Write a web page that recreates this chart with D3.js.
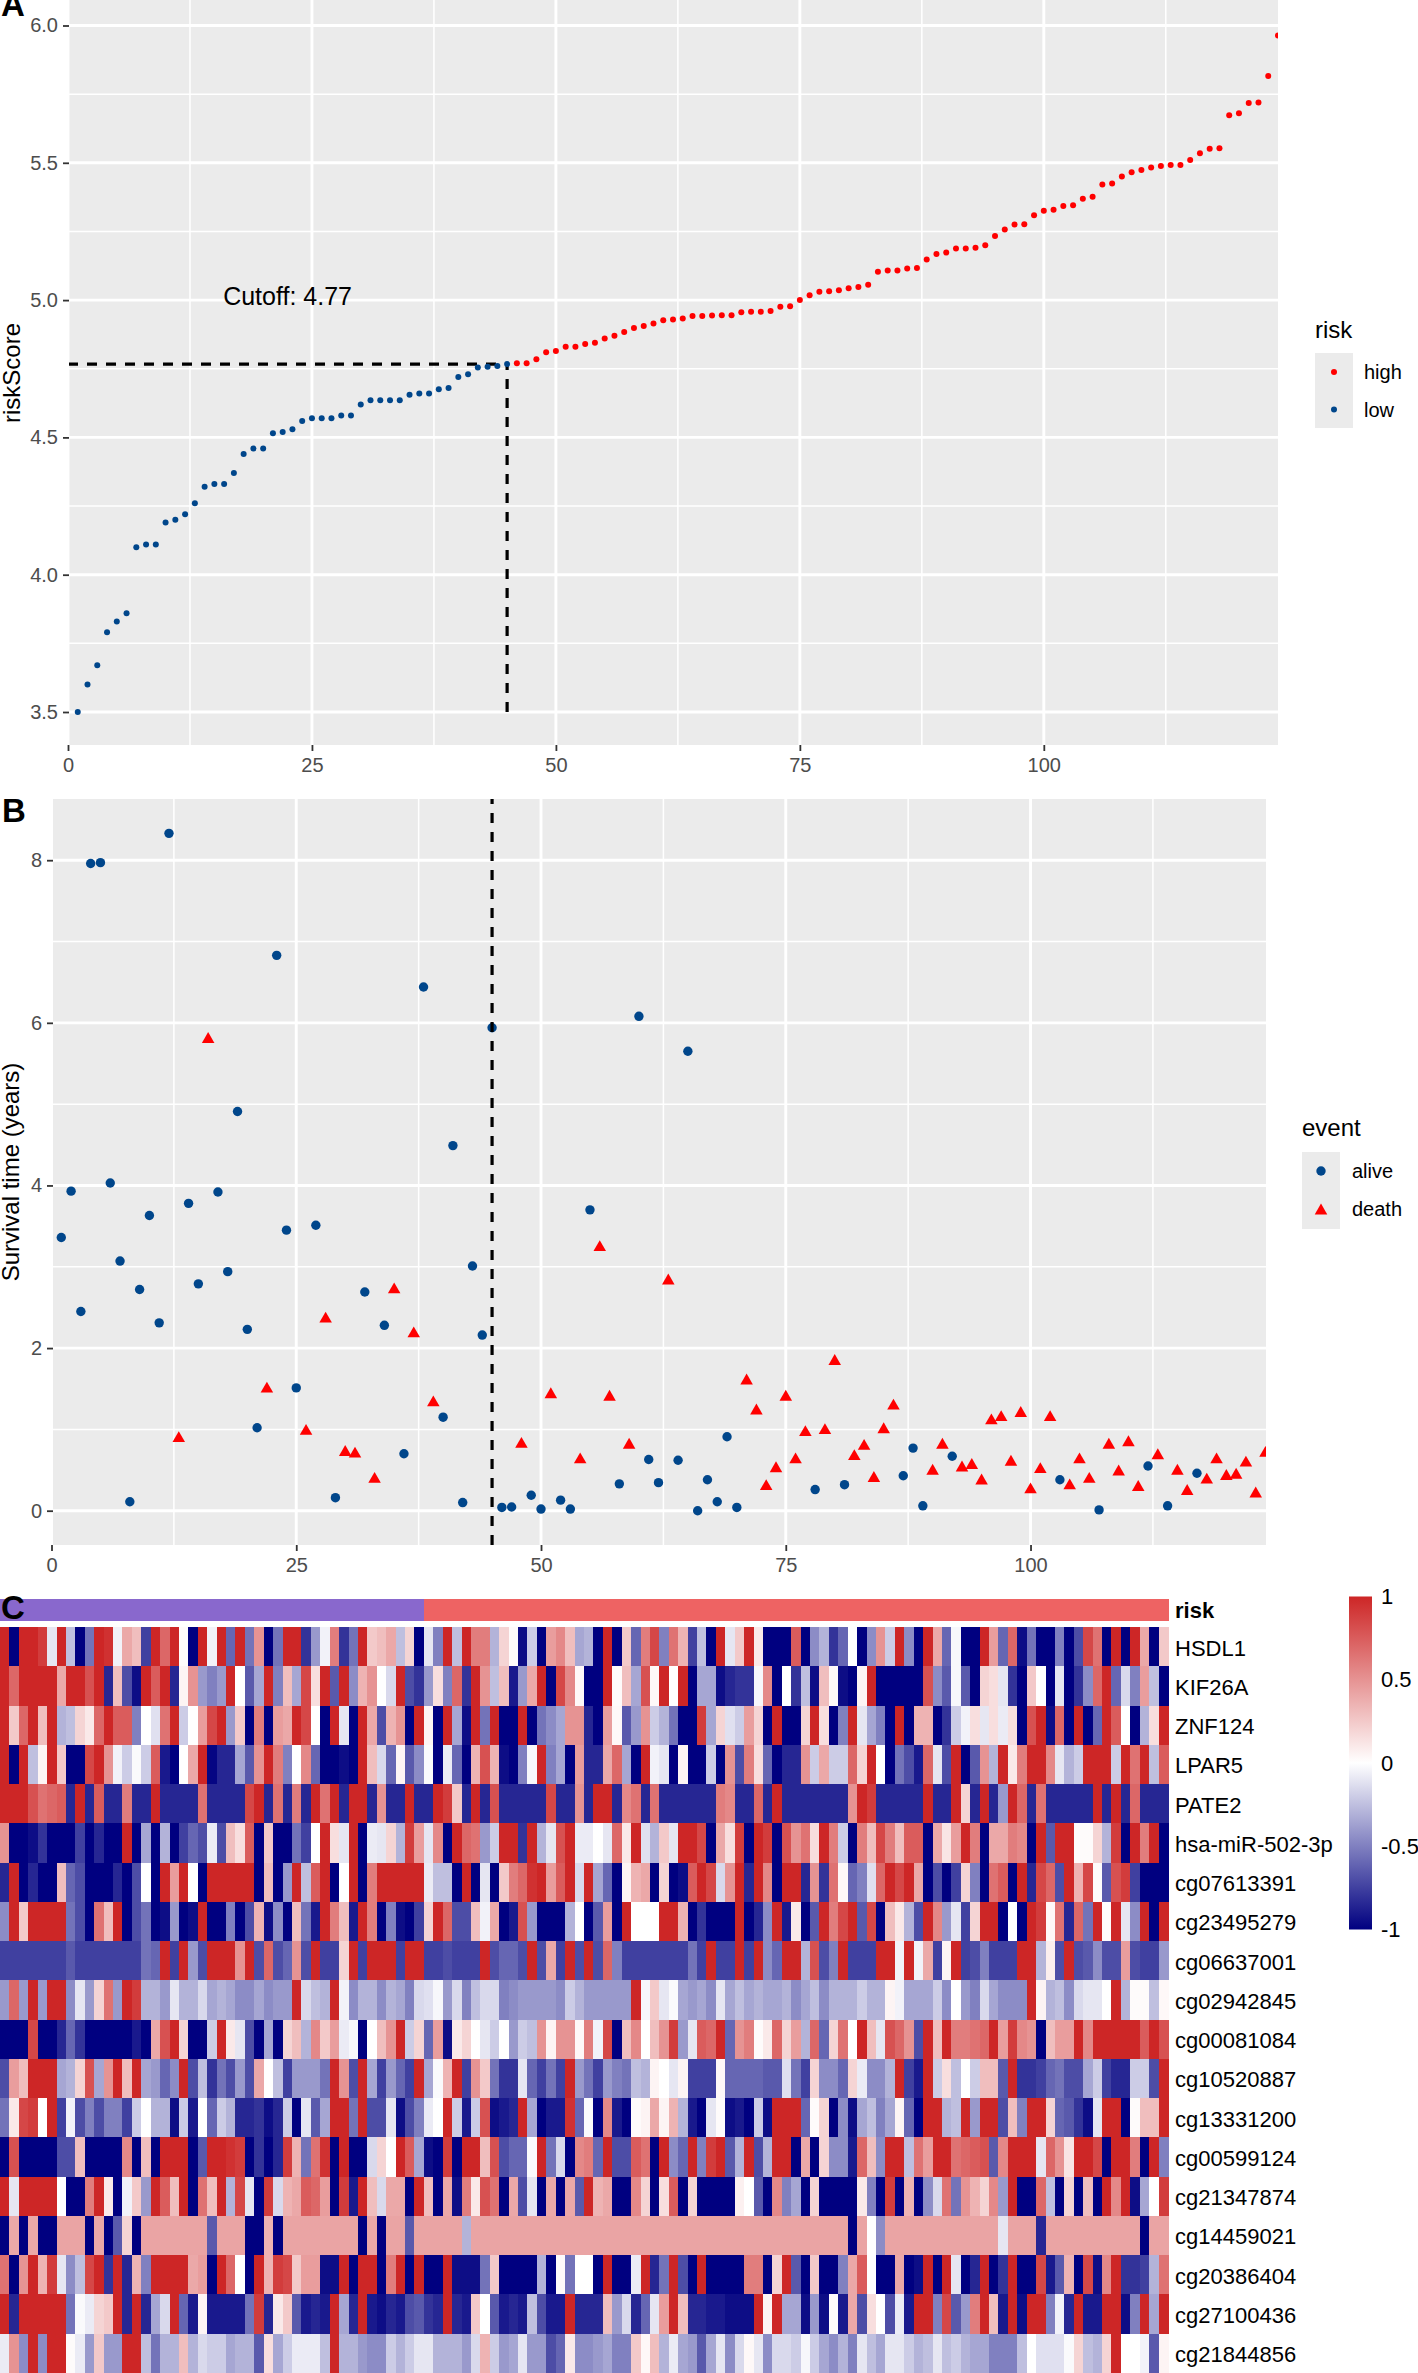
<!DOCTYPE html>
<html>
<head>
<meta charset="utf-8">
<script src="https://cdnjs.cloudflare.com/ajax/libs/d3/7.8.5/d3.min.js"></script>
<style>
html,body{margin:0;padding:0;background:#fff;}
svg{display:block;font-family:"Liberation Sans",Arial,sans-serif;}
</style>
</head>
<body>
<svg id="fig" width="1418" height="2373"></svg>
<script>
const riskScore=[
3.50,3.60,3.67,3.79,3.83,3.86,4.10,4.11,4.11,4.19,
4.20,4.22,4.26,4.32,4.33,4.33,4.37,4.44,4.46,4.46,
4.515,4.52,4.53,4.56,4.57,4.57,4.57,4.58,4.58,4.62,
4.635,4.635,4.635,4.635,4.655,4.66,4.66,4.675,4.68,4.72,
4.73,4.755,4.757,4.76,4.767,4.77,4.77,4.785,4.81,4.815,
4.83,4.83,4.84,4.845,4.86,4.87,4.884,4.898,4.906,4.915,
4.927,4.929,4.933,4.942,4.942,4.944,4.945,4.945,4.956,4.958,
4.958,4.96,4.976,4.978,5.0,5.018,5.03,5.032,5.036,5.043,
5.048,5.056,5.103,5.108,5.108,5.115,5.117,5.148,5.168,5.173,
5.188,5.188,5.191,5.2,5.233,5.257,5.275,5.276,5.309,5.325,
5.329,5.343,5.345,5.369,5.376,5.421,5.425,5.45,5.466,5.474,
5.483,5.488,5.492,5.492,5.51,5.535,5.551,5.553,5.673,5.68,
5.718,5.72,5.816,5.964];
const lowRiskCount=45;
const cutoffValue=4.767;
const cutoffLabel="Cutoff: 4.77";
const riskLevels=["high","low"];
const eventLevels=["alive","death"];
const survivalYears=[
3.36,3.93,2.45,7.96,7.97,4.03,3.07,0.11,2.72,3.63,
2.31,8.33,0.91,3.78,2.79,5.82,3.92,2.94,4.91,2.23,
1.02,1.52,6.83,3.45,1.51,1.0,3.51,2.38,0.16,0.74,
0.72,2.69,0.41,2.28,2.74,0.70,2.2,6.44,1.35,1.15,
4.49,0.10,3.01,2.16,5.94,0.04,0.045,0.84,0.19,0.02,
1.45,0.13,0.02,0.65,3.7,3.26,1.42,0.33,0.83,6.08,
0.63,0.345,2.85,0.62,5.65,0.0,0.38,0.11,0.91,0.04,
1.62,1.25,0.32,0.54,1.42,0.65,0.985,0.26,1.01,1.86,
0.32,0.69,0.815,0.42,1.02,1.31,0.43,0.77,0.06,0.51,
0.83,0.67,0.55,0.58,0.39,1.13,1.17,0.62,1.22,0.28,
0.53,1.17,0.38,0.33,0.65,0.41,0.01,0.83,0.50,0.86,
0.31,0.55,0.70,0.06,0.51,0.26,0.46,0.40,0.65,0.445,
0.46,0.61,0.23,0.73];
const alivePatients=[1,2,3,4,5,6,7,8,9,10,11,12,14,15,17,18,19,20,21,23,24,25,27,29,32,34,36,38,40,41,42,43,44,45,46,47,49,50,52,53,55,58,60,61,62,64,65,66,67,68,69,70,78,81,87,88,89,92,103,107,112,114,117];

const geneNames=["HSDL1","KIF26A","ZNF124","LPAR5","PATE2","hsa-miR-502-3p","cg07613391","cg23495279","cg06637001","cg02942845","cg00081084","cg10520887","cg13331200","cg00599124","cg21347874","cg14459021","cg20386404","cg27100436","cg21844856"];

const hsdl1=[1,-1,1,1,.9,-.1,1,-.25,-1,-.55,
1,.95,-.05,.4,.3,-.75,1,.7,1,.02,
-1,1,-.05,1,-.6,1,-.55,.5,-1,-.55,
1,1,-.8,-.4,-.05,.6,-.8,-.55,1,.25,
.3,.4,-.25,.2,-1,-.1,-.5,1,-.25,1,
.6,.6,-.3,.2,.02,-.95,-.2,-1,.45,.55,
.3,-.35,-.3,-1,1,-1,.25,-.6,.6,.85,
-.5,.65,.35,-.75,-.25,-1,1,-.1,.25,1,
.1,-1,-1,-1,.75,-1,-.45,-.3,-.8,-.6,
0,-1,-.45,.5,-.2,1,-.45,-1,1,.4,
-.6,-.03,-1,-1,1,.45,-.6,.7,-.95,-.55,
-1,-1,-.5,-1,-.7,.85,.65,-1,1,-1,
1,.4,-1,.25];
const kif26a=[1,.7,1,1,1,1,.4,1,1,.8,
1,-.85,.3,-.7,-.95,1,.75,1,-.85,.05,
.5,-.4,-.5,-.4,1,0,-.65,-.35,1,-.5,
.3,-.35,.85,.15,1,-.65,1,-.45,.35,.5,
0,-.15,1,-.7,-.8,-.4,.15,-.5,.7,-.8,
1,.5,-.25,.3,-.9,-.4,.4,1,-1,.85,
.55,.03,-1,-1,1,.02,.3,-.35,.8,.03,
1,0,1,-1,-.35,-.35,-.95,-.85,-.8,-.8,
-.03,.55,-1,0,-.8,-.25,-.95,.3,.03,-.95,
-1,.05,1,-1,-1,-1,-1,-1,.8,-.45,
-.65,-.03,-.65,-1,.2,.15,-.1,-.8,-1,.25,
0,-1,-.1,-1,-.8,-.45,.7,1,-.6,-.15,
-.5,.45,-.25,-1];
const znf124=[1,.25,.7,1,.3,1,-.3,-.25,.2,.1,
.7,1,.75,.75,-.5,0,-.12,.65,1,-.2,
0,.45,.85,1,-.4,.25,-1,.6,-1,.45,
.4,1,.85,0,-1,1,-.1,-1,1,.4,
-.7,.35,.5,-1,1,.05,-1,1,-.35,-.95,
1,-.55,1,-1,-1,1,-1,-.55,-.45,-.35,
.5,.5,-.85,-1,.45,.03,-.65,-.4,.5,-.2,
-.3,-.55,-1,-1,.9,-.35,.2,-.12,-.2,.45,
.2,-1,1,-1,-1,.2,1,.15,-1,-.5,
1,-.1,-.35,-.5,-1,1,-1,.35,.35,-1,
-.8,-.2,-.05,.15,-.1,.15,-.08,.15,-1,.8,
1,-.95,.7,-1,1,-1,-.6,1,.75,0,
-1,-.3,.15,1];
const lpar5=[1,-1,1,-.25,.05,1,.25,-1,-1,.85,
1,.5,-.05,-.2,-.02,-.2,.75,-.9,-1,0,
.4,1,-.98,-.85,-.85,-.35,-.65,.5,1,.6,
-.5,0,.55,-.6,-1,-1,-.95,-1,1,.3,
-.15,-.6,.05,-.65,-.45,-.02,-1,-.08,-.6,-1,
.35,.8,.35,-.95,-1,-.5,-.03,1,-.5,-.35,
-1,.45,-.85,-.85,.4,.7,-.35,-1,1,-.05,
-.1,-1,.05,-1,-1,-.2,-1,.5,-.7,.6,
.15,-.6,-1,-.85,-.85,.5,-.2,.4,-.2,-.2,
.7,.2,1,0,-1,-.55,-.7,-.9,.7,-.1,
-.7,1,-1,-.65,.5,-.3,1,.1,.6,1,
1,.55,-.1,-.3,-.2,1,1,1,-.2,1,
.65,1,-.25,.75];
const pate2=[1,1,1,.8,.65,.7,.75,-.85,1,-.85,
.75,-.85,-.85,.6,-.85,-.85,1,-.85,-.85,-.85,
-.85,.65,-.85,-.85,-.85,-.85,.85,1,-.85,.65,
-.85,.6,-.85,1,.65,1,-.85,1,1,-.85,
.5,-.85,-.85,1,-.85,-.85,1,.9,.25,-.85,
1,-.85,.8,-.85,-.85,-.85,-.85,-.85,.85,-.85,
-.85,.5,-.85,1,1,-.85,.55,.65,-.85,.65,
-.85,-.85,-.85,-.85,-.85,-.85,.6,.55,-.85,-.85,
.7,-.85,1,-.85,-.85,-.85,-.85,-.85,-.85,-.85,
.5,1,.9,-.85,-.85,-.85,-.85,-.85,1,-.85,
-.85,1,.2,-.85,1,-.85,-.4,1,.7,-.85,
.65,-.85,-.85,-.85,-.85,-.85,1,-.85,1,-.85,
.7,-.85,-.85,-.85];
const hsaMiR502=[.5,-1,-1,-.95,-.8,-1,-1,-1,-.75,-1,
-.85,-1,-1,1,-1,-.35,-1,-.3,-1,-.75,
-.6,-.7,-.08,-.7,.3,.15,.75,-1,.25,-1,
-1,-.55,-.75,0,1,.15,-.1,1,-1,-.08,
-.1,.2,-.3,.9,.45,-.1,.55,-1,1,.7,
.65,-.4,-.2,1,1,-.8,1,-.3,-.1,.8,
1,-.08,-.08,0,-.1,.7,.1,1,-.12,-.3,
.25,-.1,1,1,.85,-1,.4,.15,.9,-1,
1,.9,-1,.8,.5,.65,.15,1,.6,-.2,
-1,.6,.3,.85,.6,.3,.75,.75,-1,.4,
.12,.45,1,.6,-1,.4,.4,.6,.55,-1,
1,-.65,1,1,.02,.02,.2,-.3,.9,-1,
1,.6,1,-1];
const cg07613391=[-.85,1,-1,-.85,-1,-1,.3,-.6,-.7,-1,
-1,-1,-.85,-1,-.7,0,-1,1,.45,1,
0,-1,1,1,1,1,1,-1,.3,-1,
-.4,1,-.25,.75,1,-1,0,1,-1,.6,
1,1,1,1,1,-.08,-.25,-.25,-1,1,
-1,-.1,-1,.25,.6,.7,.95,1,.45,.75,
1,-.15,1,-.35,-.6,-1,.05,.35,.4,-1,
.2,-1,-.95,.75,1,.85,-.15,.5,1,-.85,
1,.55,-1,1,1,-.85,.5,-.8,.65,.03,
-.6,-.5,-.12,.7,1,.85,1,.4,-1,-.7,
-1,-.75,.2,-.5,-1,.65,.75,-1,1,-.85,
.85,.7,-.7,1,.35,.85,.02,-.65,.8,.9,
-.75,-1,-1,-1];
const cg23495279=[-.45,1,.25,1,1,1,1,-.55,-.7,-1,
.65,.3,1,-1,-.7,-.55,-1,-.95,-.4,-1,
-.95,1,-1,-1,-.5,-1,-.7,.35,-.95,-.45,
-1,.3,-.55,-.9,1,.6,.3,-.9,1,.6,
-1,-.5,-.95,-1,-.75,.2,1,.7,-.7,-.7,
.3,-.05,.4,-1,-.9,.8,-.4,-1,-1,-1,
-.3,0,-1,-.65,.45,-1,1,0,0,0,
1,1,.35,-1,-.8,-1,-1,-1,1,-1,
-.85,-.45,1,-.9,.1,-1,-.65,1,.6,.85,
1,-.65,.85,-1,.3,.1,-.3,-.7,1,.55,
-.4,-.1,-.75,.2,1,1,-1,0,-1,1,
.9,.03,.65,-.85,.7,-.55,1,.02,1,-.1,
-.45,1,-1,1];
const cg06637001=[-.75,-.75,-.75,-.75,-.75,-.75,-.75,-.65,-.75,-.75,
-.75,-.75,-.75,-.75,-.75,-.55,-.6,1,-.75,1,
-.4,-.7,1,1,1,.5,1,-.7,.7,-.7,
-.6,.5,-.7,1,-.75,-.75,.2,1,-.75,1,
1,1,-.75,1,1,-.75,-.75,-.7,-.75,-.75,
-.75,1,-.7,-.6,-.6,-.7,1,-.7,.4,-.75,
1,-.7,1,-.7,.7,-.5,-.75,-.75,-.75,-.75,
-.75,-.75,-.75,-.55,-.75,1,-.75,-.75,1,-.75,
1,-.45,-.6,1,1,-.3,.8,-.7,-.5,1,
-.75,-.75,-.75,1,1,-.05,1,-.05,.4,-.75,
.05,1,-.75,-.7,-.5,-.75,-.75,-.75,1,1,
-.3,.08,-.7,1,-.7,-.65,-.45,-.7,-.7,.45,
-.7,-.75,-.75,-.4];
const cg02942845=[-.4,.7,-.4,1,-.4,1,1,-.45,-.1,-.4,
.2,.65,-.4,1,.9,-.3,-.3,-.4,-.1,-.3,
-.3,-.15,-.35,-.3,-.35,-.45,-.45,-.35,-.45,-.4,
-.4,1,-.15,-.25,-.3,1,-.05,-.45,-.3,-.3,
-.45,-.3,-.35,-.5,-.15,-.12,-.03,-.4,-.15,-.5,
-.25,-.15,-.15,-.5,-.45,-.4,-.4,-.4,-.4,-.45,
-.2,-.3,-.4,-.4,-.4,-.4,-.4,1,-.03,.25,
-.1,-.02,-.35,-.4,-.35,-.45,-.1,-.35,-.25,-.35,
-.3,-.35,-.35,-.3,-.45,-.35,-.25,-.45,-.3,-.3,
-.3,-.2,-.3,-.3,.05,-.05,-.35,-.35,-.35,-.2,
-.45,0,-.4,-.5,-.15,-.35,-.45,-.45,-.45,1,
.05,-.3,-.25,-.45,-.15,-.1,-.1,0,1,-.3,
.02,.02,-.25,.03];
const cg00081084=[-1,-1,-1,.85,-1,-1,-.85,-.6,-.8,-1,
-1,-1,-1,-1,-.9,-1,.4,.8,1,.2,
-1,-1,-.2,1,.1,-.1,-.7,-1,-.35,-1,
.2,.3,-.3,.55,.25,.45,-.08,-.03,-1,0,
.3,.5,1,-.2,.2,-.6,.45,-.95,.1,.2,
0,-.1,-.2,0,-.4,-.2,-.25,.5,.05,.5,
.5,.03,.6,-.05,.85,-1,.3,.55,0,.3,
.5,.9,-.4,-.1,.75,.7,1,-.6,.5,.6,
.02,.1,.7,.2,.45,-.3,.7,-.6,.2,.65,
0,1,.3,-.1,.8,.7,.5,-.7,1,.3,
1,.6,.6,.65,.7,1,.45,.9,.55,.5,
-1,.3,.45,.45,1,.55,1,1,1,1,
1,.75,1,.8];
const cg10520887=[-.7,.45,.3,1,1,1,-.35,-.3,.2,.8,
-.35,.5,1,.3,1,-.35,-.4,-.6,-.45,1,
-.7,-.25,-.8,-.55,-.7,-.4,-.7,.4,0,-.25,
-.75,-.4,-.4,-.4,-.55,1,.5,-.7,1,-.35,
-.75,-.4,-.6,-.75,1,-.35,-.02,.35,1,-.75,
.5,.25,-.55,-.8,-.8,-.1,-.6,-.75,-.55,-.75,
1,-.4,-.55,-.75,-.4,-.5,-.55,-.25,-.3,.05,
0,-.1,.05,-.75,-.75,-.75,.03,-.6,-.6,-.6,
-.6,-.65,-.65,-.12,-.55,-.75,.2,-.45,-.45,-.6,
.2,-.08,-.45,-.45,-.3,1,-.75,-.9,1,-.2,
.15,-.25,0,-.2,.3,.3,-.65,1,-.8,-.8,
-.75,-.6,-.55,-.7,-.7,-.35,-.2,-.75,-.85,-.85,
-.2,-.2,-.7,1];
const cg13331200=[-.55,.1,.85,.9,0,1,-.75,-.05,-.7,-.5,
-.7,-.5,-.5,-.75,-.2,0,-.3,-.3,-.95,-.2,
-.9,0,-.6,-.2,-.3,-.85,-.85,-.8,-.95,-.85,
-.2,-1,-.1,-.65,-.35,1,1,-.55,1,-.7,
-.7,-.1,-.95,-.7,-.5,-.08,0,1,-.2,-.9,
-.2,.8,-.95,-.9,-.85,1,-.35,-1,-.9,-.9,
.95,-.6,-.02,-1,.55,-.9,-1,.02,.05,.4,
.05,.35,-.3,-.9,-1,-.1,.02,-.95,-.9,-1,
-.2,-.95,1,1,1,-.6,.02,.2,-1,-.45,
-.95,-.35,-.25,-.5,-.35,.05,-.6,-1,1,1,
-.3,-.25,1,-.4,1,1,-.7,.3,-.5,1,
1,.2,-.6,-.65,-.8,-.95,-.1,1,1,-1,
.02,.3,.3,1];
const cg00599124=[-1,.8,-1,-1,-1,-1,-.7,-.7,.3,-1,
-1,-1,-1,.55,-1,.3,-1,1,1,1,
-1,-.65,1,1,.95,.9,-1,-.8,-1,-.85,
.9,.35,-.55,.65,.95,-1,1,-1,-1,-.15,
.2,0,1,.75,-.35,-.95,-1,.9,-1,1,
1,.3,.8,-.7,-.6,-.6,-.02,1,-.55,-.15,
-1,.55,.6,-.6,1,-.7,-.7,.75,.65,-1,
1,-.45,-.6,1,-.5,.9,1,-.65,-.3,1,
-.7,-.3,1,1,-1,.4,-1,.2,-.45,-.45,
-.9,.7,.3,-.45,1,1,-.25,.65,.45,1,
1,.65,.7,.75,.8,-.65,.55,1,1,1,
-.1,.7,.5,.12,1,1,.85,-1,1,1,
.6,-1,1,-.5];
const cg21347874=[1,-.1,1,1,1,1,0,-1,-1,.6,
1,.1,-1,-.05,.25,-.4,1,.75,.3,1,
-1,.65,.3,1,-.3,.85,-.1,-1,.9,-.15,
.35,.4,.75,.7,.45,-1,.9,-.9,1,.3,
-.15,.4,.4,-1,1,.3,-1,.4,-.95,.6,
.1,.8,.65,-1,.4,-.7,-.1,-1,.4,-1,
.4,-.65,1,.35,.4,-1,-1,.55,.2,-1,
.15,.75,-1,.2,-1,-1,-1,-1,.07,0,
-.65,-1,.55,-.5,-.35,-1,.2,-1,-1,-1,
-1,.1,-.5,-1,.9,-1,.35,-1,-.45,-.15,
.65,-.55,.5,.35,.2,.55,-.4,1,-1,-1,
.7,-.25,-1,.2,-1,.3,-1,1,.55,1,
-.95,-.35,0,.9];
const cg14459021=[-1,.4,-1,.4,-1,-1,.42,.42,.42,-1,
.4,-1,-.65,.2,-1,.42,.42,.42,.42,.42,
.42,.42,-.65,.42,.42,.42,-1,-1,.35,-1,
.42,.42,.42,.42,.42,.42,.42,.42,-1,.4,
-1,.42,.42,-.65,.42,.42,.42,.42,.42,-.3,
.42,.42,.42,.42,.42,.42,.42,.42,.42,.42,
.42,.42,.42,.42,.42,.42,.42,.42,.42,.42,
.42,.42,.42,.42,.42,.42,.42,.42,.42,.42,
.42,.42,.42,.42,.42,.42,.42,.42,.42,.42,
-1,.42,0,-.45,.42,.42,.42,.42,.42,.42,
.42,.42,.42,.42,.42,.42,-.1,.42,.42,.42,
-.85,.42,.42,.42,.42,.42,.42,.42,.42,.42,
.42,-1,.42,.42];
const cg20386404=[.65,-1,.5,1,.35,.9,-.1,-.45,-.25,.85,
1,-.8,1,-.85,.35,-.5,1,1,1,1,
.4,.45,-1,1,.7,0,-1,1,.35,.9,
.85,.25,.45,.45,-.95,-.95,1,-1,1,1,
-1,.6,1,-1,1,-1,-1,1,-.95,-.95,
-.95,-.55,.25,-1,-1,-1,-1,-.3,-1,.02,
-.55,0,0,-1,1,-1,-1,-.08,1,-.85,
-.55,1,-.7,-1,1,-1,-1,-1,-1,.6,
.6,-1,.2,1,-.65,-1,.25,-1,-1,-.5,
.4,.75,0,-1,-1,.4,-1,-.95,1,-1,
1,-.1,-1,-.85,1,-1,-.8,1,-1,-1,
.85,-.9,-.65,.35,-1,.85,-.95,.55,1,-.8,
-.8,-.75,-.3,.65];
const cg27100436=[1,-.85,1,1,1,1,1,-.55,-.02,-.08,
.2,.25,1,-.85,1,-.85,-.35,-.15,1,-.6,
-.9,.05,-.9,-.9,-.9,-.9,-.55,.9,-.85,.1,
.25,-.65,-.9,-.85,-.9,1,-.35,-.85,1,-.9,
-.95,-.85,-.9,-.7,-.65,-.8,-.85,1,-.85,-.9,
.25,0,-.65,-.9,-.85,-.9,-.25,-.7,-.9,-.9,
1,-.85,-.85,-.85,.3,-.4,-.15,-.85,-.6,-.1,
.45,1,.3,-.85,-.85,-.9,-.9,-.95,-.95,-.95,
1,.05,1,-.35,-.35,-.95,-.4,-.95,.02,-.9,
.4,-.7,.15,0,-.7,-.08,-.9,1,1,-.5,
.85,-.65,-.4,.6,1,.3,-.9,1,-.95,1,
1,-.5,-.05,-.85,1,-.9,-.9,1,1,-.95,
-.5,1,-.35,1];
const cg21844856=[-.08,.5,-.45,1,-.45,1,1,.02,-.08,-.4,
.25,-.4,-.4,1,1,-.25,-.55,-.3,-.3,.3,
-.3,-.15,-.2,-.2,-.35,-.3,-.3,-.65,.15,-.35,
-.2,-.08,-.08,-.08,-.25,1,-.3,-.3,-.4,-.45,
-.45,-.2,-.3,-.2,-.1,-.1,-.3,-.3,-.3,-.4,
-.15,.35,-.2,-.4,-.35,-.1,-.4,-.4,-.7,-.6,
.1,-.45,-.45,-.4,-.35,-.5,-.5,.25,.03,.3,
-.3,-.08,-.35,-.4,-.65,-.35,-.1,-.45,-.15,.03,
-.1,-.45,-.15,-.15,-.2,-.03,-.2,-.35,-.45,-.3,
-.5,-.1,-.25,-.35,-.1,-.1,-.2,-.3,-.25,-.1,
-.25,-.2,-.3,-.35,-.35,-.5,-.5,-.5,-.25,0,
-.12,-.12,-.12,-.02,.2,-.25,-.3,.2,1,0,
0,-.05,-.65,.05];
const heatRows=[hsdl1,kif26a,znf124,lpar5,pate2,hsaMiR502,cg07613391,cg23495279,cg06637001,cg02942845,cg00081084,cg10520887,cg13331200,cg00599124,cg21347874,cg14459021,cg20386404,cg27100436,cg21844856];
const colorbarTicks=[1,0.5,0,-0.5,-1];

const BLUE="#00468B", RED="#FF0000";
const svg=d3.select("#fig");
const defs=svg.append("defs");
const AX="#4D4D4D", FS=20;
const DASH="10 9", DASHW=3.2;

function panel(opts){
  const {x,y,xTicks,xMinor,yTicks,yMinor,id,left,right,top,bottom}=opts;
  const g=svg.append("g");
  g.append("rect").attr("x",left).attr("y",top).attr("width",right-left).attr("height",bottom-top).attr("fill","#EBEBEB");
  defs.append("clipPath").attr("id",id).append("rect").attr("x",left).attr("y",top).attr("width",right-left).attr("height",bottom-top);
  const grid=g.append("g").attr("clip-path",`url(#${id})`);
  grid.selectAll("line.h0").data(yMinor).join("line").attr("class","h0").attr("x1",left).attr("x2",right).attr("y1",d=>y(d)).attr("y2",d=>y(d)).attr("stroke","#fff").attr("stroke-width",1.5);
  grid.selectAll("line.v0").data(xMinor).join("line").attr("class","v0").attr("y1",top).attr("y2",bottom).attr("x1",d=>x(d)).attr("x2",d=>x(d)).attr("stroke","#fff").attr("stroke-width",1.5);
  grid.selectAll("line.h1").data(yTicks).join("line").attr("class","h1").attr("x1",left).attr("x2",right).attr("y1",d=>y(d)).attr("y2",d=>y(d)).attr("stroke","#fff").attr("stroke-width",2.9);
  grid.selectAll("line.v1").data(xTicks).join("line").attr("class","v1").attr("y1",top).attr("y2",bottom).attr("x1",d=>x(d)).attr("x2",d=>x(d)).attr("stroke","#fff").attr("stroke-width",2.9);
  const ax=svg.append("g").attr("transform",`translate(0,${bottom})`).call(d3.axisBottom(x).tickValues(xTicks).tickFormat(d3.format("d")).tickSize(6).tickPadding(6.5));
  const ay=svg.append("g").attr("transform",`translate(${left},0)`).call(d3.axisLeft(y).tickValues(yTicks).tickFormat(opts.yFormat).tickSize(6).tickPadding(5));
  [ax,ay].forEach(a=>{
    a.select(".domain").remove();
    a.selectAll("line").attr("stroke","#333").attr("stroke-width",1.8);
    a.selectAll("text").attr("fill",AX).attr("font-size",FS).attr("font-family","Liberation Sans");
  });
  return g.append("g").attr("clip-path",`url(#${id})`);
}

// Panel A
const xA=d3.scaleLinear().domain([0,124]).range([68,1278]);
const yA=d3.scaleLinear().domain([3.5,6]).range([712,25.5]);
const pA=panel({x:xA,y:yA,id:"clipA",left:69,right:1278,top:0,bottom:745,
  xTicks:[0,25,50,75,100],xMinor:[12.5,37.5,62.5,87.5,112.5],
  yTicks:[3.5,4,4.5,5,5.5,6],yMinor:[3.75,4.25,4.75,5.25,5.75],yFormat:d3.format(".1f")});
const dash=pA.append("g").attr("stroke","#000").attr("stroke-width",DASHW).attr("stroke-dasharray",DASH).attr("fill","none");
dash.append("line").attr("x1",xA(0)).attr("x2",xA(lowRiskCount)).attr("y1",yA(cutoffValue)).attr("y2",yA(cutoffValue));
dash.append("line").attr("x1",xA(lowRiskCount)).attr("x2",xA(lowRiskCount)).attr("y1",yA(3.5)).attr("y2",yA(cutoffValue));
pA.selectAll("circle").data(riskScore).join("circle")
  .attr("cx",(d,i)=>xA(i+1)).attr("cy",d=>yA(d)).attr("r",3)
  .attr("fill",(d,i)=>i<lowRiskCount?BLUE:RED);
svg.append("text").attr("x",xA(22.5)).attr("y",yA(5.015)).attr("dy","0.35em").attr("text-anchor","middle").attr("font-size",25).text(cutoffLabel);
svg.append("text").attr("transform","translate(20,373) rotate(-90)").attr("text-anchor","middle").attr("font-size",24).text("riskScore");

// Legend A
svg.append("text").attr("x",1315).attr("y",338).attr("font-size",24).text("risk");
svg.append("rect").attr("x",1315).attr("y",353).attr("width",38).attr("height",75).attr("fill","#EBEBEB");
const legA=d3.scalePoint().domain(riskLevels).range([372,409.5]);
riskLevels.forEach((l,i)=>{
  svg.append("circle").attr("cx",1334).attr("cy",legA(l)).attr("r",3).attr("fill",i===0?RED:BLUE);
  svg.append("text").attr("x",1364).attr("y",legA(l)).attr("dy","0.35em").attr("font-size",20).text(l);
});

// Panel B
const xB=d3.scaleLinear().domain([0,124]).range([51.5,1265.5]);
const yB=d3.scaleLinear().domain([0,8]).range([1510.7,860.2]);
const pB=panel({x:xB,y:yB,id:"clipB",left:53,right:1266,top:799,bottom:1545,
  xTicks:[0,25,50,75,100],xMinor:[12.5,37.5,62.5,87.5,112.5],
  yTicks:[0,2,4,6,8],yMinor:[1,3,5,7],yFormat:d3.format("d")});
const alive=new Set(alivePatients);
const tri=d3.symbol().type(d3.symbolTriangle).size(68);
const dot=d3.symbol().type(d3.symbolCircle).size(Math.PI*4.7*4.7);
pB.selectAll("path.pt").data(survivalYears).join("path").attr("class","pt")
  .attr("d",(d,i)=>alive.has(i+1)?dot():tri())
  .attr("transform",(d,i)=>`translate(${xB(i+1)},${yB(d)+(alive.has(i+1)?0:1.8)})`)
  .attr("fill",(d,i)=>alive.has(i+1)?BLUE:RED);
svg.append("line").attr("x1",xB(lowRiskCount)).attr("x2",xB(lowRiskCount)).attr("y1",1545).attr("y2",799)
  .attr("stroke","#000").attr("stroke-width",DASHW).attr("stroke-dasharray",DASH);
svg.append("text").attr("transform","translate(19,1172) rotate(-90)").attr("text-anchor","middle").attr("font-size",24).text("Survival time (years)");

// Legend B
svg.append("text").attr("x",1302).attr("y",1136).attr("font-size",24).text("event");
svg.append("rect").attr("x",1302).attr("y",1152).attr("width",38).attr("height",77).attr("fill","#EBEBEB");
const legB=d3.scalePoint().domain(eventLevels).range([1171,1209]);
svg.append("path").attr("d",dot()).attr("transform",`translate(1321,${legB("alive")})`).attr("fill",BLUE);
svg.append("path").attr("d",tri()).attr("transform",`translate(1321,${legB("death")+1.8})`).attr("fill",RED);
eventLevels.forEach(l=>svg.append("text").attr("x",1352).attr("y",legB(l)).attr("dy","0.35em").attr("font-size",20).text(l));

// Panel C
const cols=d3.range(124);
const xH=d3.scaleBand().domain(cols).range([0,1168]);
const yH=d3.scaleBand().domain(geneNames).range([1627,2373]);
const colorH=d3.scaleLinear().domain([-1,0,1]).range(["#000080","#FFFFFF","#CD2626"]);
const gH=svg.append("g").attr("shape-rendering","crispEdges");
heatRows.forEach((row,ri)=>{
  gH.selectAll(`rect.r${ri}`).data(row).join("rect").attr("class",`r${ri}`)
    .attr("x",(d,i)=>xH(i)).attr("y",yH(geneNames[ri])).attr("width",xH.bandwidth()+0.6).attr("height",yH.bandwidth()+0.6)
    .attr("fill",d=>colorH(d));
});
gH.selectAll("rect.risk").data(cols).join("rect").attr("class","risk")
  .attr("x",d=>xH(d)).attr("y",1598.5).attr("width",xH.bandwidth()+0.6).attr("height",22.5)
  .attr("fill",d=>d<lowRiskCount?"#8968CD":"#EE6363");
svg.append("text").attr("x",1175).attr("y",1610).attr("dy","0.35em").attr("font-size",22).attr("font-weight","bold").text("risk");
svg.selectAll("text.gene").data(geneNames).join("text").attr("class","gene")
  .attr("x",1175).attr("y",d=>yH(d)+yH.bandwidth()/2+1.2).attr("dy","0.35em").attr("font-size",22).text(d=>d);

// Colour bar
const yC=d3.scaleLinear().domain([1,-1]).range([1596.5,1929.5]);
const gid="cbar";
const lg=defs.append("linearGradient").attr("id",gid).attr("x1",0).attr("x2",0).attr("y1",0).attr("y2",1);
lg.selectAll("stop").data(colorbarTicks).join("stop").attr("offset",d=>(1-d)/2).attr("stop-color",d=>colorH(d));
svg.append("rect").attr("x",1349).attr("y",yC(1)).attr("width",23).attr("height",yC(-1)-yC(1)).attr("fill",`url(#${gid})`);
svg.selectAll("text.cb").data(colorbarTicks).join("text").attr("class","cb")
  .attr("x",1381).attr("y",d=>yC(d)).attr("dy","0.35em").attr("font-size",22).text(d=>String(d));

// Panel letters
[["A",1,16],["B",2,822],["C",1,1619]].forEach(([t,x,y])=>
  svg.append("text").attr("x",x).attr("y",y).attr("font-size",33).attr("font-weight","bold").text(t));
</script>
</body>
</html>
